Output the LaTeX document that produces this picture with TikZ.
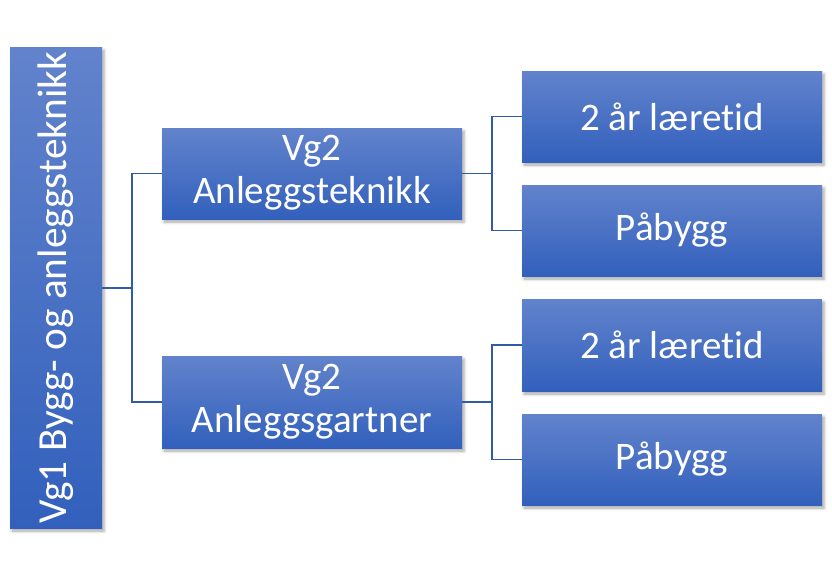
\documentclass[tikz,border=0pt]{standalone}
\usepackage{fontspec}
\setmainfont{Carlito}[Ligatures=NoCommon]
\usetikzlibrary{shadows.blur}
\definecolor{gtop}{RGB}{98,131,204}
\definecolor{gmid}{RGB}{68,114,200}
\definecolor{gbot}{RGB}{50,96,188}
\definecolor{linec}{RGB}{50,90,165}
\tikzset{
  boxstyle/.style={rectangle, inner sep=0pt, top color=gtop, middle color=gmid, bottom color=gbot,
    text=white, align=center,
    blur shadow={shadow xshift=2pt, shadow yshift=-3pt, shadow blur radius=3pt, shadow opacity=35}},
  conn/.style={draw=linec, line width=1.8pt},
}
\newcommand{\twolines}[2]{\raisebox{-2pt}{\begin{tabular}{@{}c@{}}#1\\#2\end{tabular}}}
\begin{document}
\begin{tikzpicture}[x=1pt,y=-1pt]
\useasboundingbox (0,0) rectangle (832,576);
\node[boxstyle, minimum width=92pt, minimum height=481pt] (vg1) at (56,287.5)
  {\rotatebox{90}{\fontsize{41.3}{46}\selectfont Vg1 Bygg- og anleggsteknikk}};
\node[boxstyle, minimum width=300pt, minimum height=91pt, font=\fontsize{39}{43}\selectfont] (vg2a) at (312,173.5) {\twolines{Vg2}{Anleggsteknikk}};
\node[boxstyle, minimum width=300pt, minimum height=92pt, font=\fontsize{39}{43}\selectfont] (vg2b) at (312,402) {\twolines{Vg2}{Anleggsgartner}};
\node[boxstyle, minimum width=300pt, minimum height=91pt, font=\fontsize{39}{46}\selectfont] (r1) at (672,116.5) {2 år læretid};
\node[boxstyle, minimum width=300pt, minimum height=91pt, font=\fontsize{39}{46}\selectfont] (r2) at (672,230.5) {Påbygg};
\node[boxstyle, minimum width=300pt, minimum height=92pt, font=\fontsize{39}{46}\selectfont] (r3) at (672,345) {2 år læretid};
\node[boxstyle, minimum width=300pt, minimum height=91pt, font=\fontsize{39}{46}\selectfont] (r4) at (672,459.5) {Påbygg};
\coordinate (j1) at (132,288);
\coordinate (j2) at (492,173.5);
\coordinate (j3) at (492,402);
\draw[conn] (vg1.east |- j1) -- (j1) |- (vg2a.west |- j2);
\draw[conn] (j1) |- (vg2b.west |- j3);
\draw[conn] (vg2a.east |- j2) -- (j2) |- (r1.west);
\draw[conn] (j2) |- (r2.west);
\draw[conn] (vg2b.east |- j3) -- (j3) |- (r3.west);
\draw[conn] (j3) |- (r4.west);
\end{tikzpicture}
\end{document}
